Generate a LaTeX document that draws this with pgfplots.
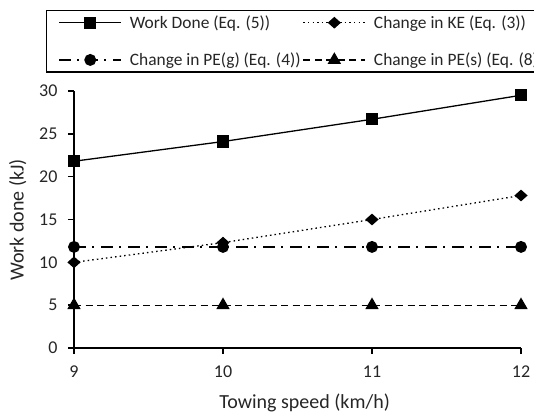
\documentclass[border=0pt]{standalone}
\usepackage{pgfplots}
\pgfplotsset{compat=1.18}
\usepackage{fontspec}
\setmainfont{Carlito}
\newcommand\tickfont{\fontsize{18pt}{22pt}\selectfont}
\newcommand\labfont{\fontsize{20pt}{24pt}\selectfont}
\newcommand\legfont{\fontsize{17.4pt}{21pt}\selectfont}
\begin{document}
\begin{tikzpicture}
\begin{axis}[
  scale only axis,
  width=447pt, height=257pt,
  xmin=9, xmax=12, ymin=0, ymax=30,
  axis lines=left,
  axis line style={line width=1.6pt, -},
  xtick={9,10,11,12}, ytick={0,5,...,30},
  tick align=outside,
  major tick length=6pt,
  tick style={line width=1.4pt, black},
  tick label style={font=\tickfont, text=black!85},
  /pgf/number format/assume math mode=true,
  yticklabel style={xshift=-7pt},
  xticklabel style={yshift=-8pt},
  xlabel={Towing speed (km/h)},
  ylabel={Work done (kJ)},
  xlabel style={at={(axis description cs:0.516,-0.213)}, anchor=center, font=\labfont, text=black!85},
  ylabel style={at={(axis description cs:-0.126,0.498)}, anchor=center, rotate=0, font=\labfont, text=black!85},
  clip=false,
  legend columns=2,
  legend cell align=left,
  legend style={at={(-28pt,338pt)}, anchor=north west, draw=black, line width=1.2pt,
    font=\legfont, text=black!85, inner xsep=12pt, inner ysep=5pt,
    nodes={inner sep=0pt},
    /tikz/every odd column/.append style={column sep=8pt},
    /tikz/every even column/.append style={column sep=2pt},
    row sep=23pt},
  legend image code/.code={\draw[mark repeat=2,mark phase=2,#1] plot coordinates {(0pt,0pt) (31pt,0pt) (62pt,0pt)};},
  every axis plot/.append style={line width=1.3pt, black},
]
\addplot[solid, mark=square*, mark size=5.5pt, mark options={solid}] coordinates {(9,21.8) (10,24.1) (11,26.7) (12,29.5)};
\addlegendentry{Work Done (Eq. (5))}
\addplot[dash pattern=on 1.5pt off 3.1pt, mark=diamond*, mark size=5pt, mark options={solid, xscale=1.5}] coordinates {(9,10.0) (10,12.3) (11,15.0) (12,17.8)};
\addlegendentry{Change in KE (Eq. (3))}
\addplot[dash pattern=on 12pt off 6pt on 2pt off 7pt, mark=*, mark size=5.3pt, mark options={solid}] coordinates {(9,11.8) (10,11.8) (11,11.8) (12,11.8)};
\addlegendentry{Change in PE(g) (Eq. (4))}
\addplot[dash pattern=on 7pt off 4.5pt, mark=triangle*, mark size=6.4pt, mark options={solid}] coordinates {(9,5.0) (10,5.0) (11,5.0) (12,5.0)};
\addlegendentry{Change in PE(s) (Eq. (8))}
\end{axis}
\pgfresetboundingbox
\path[use as bounding box] (-74pt,-66pt) rectangle (460pt,348pt);
\end{tikzpicture}
\end{document}
